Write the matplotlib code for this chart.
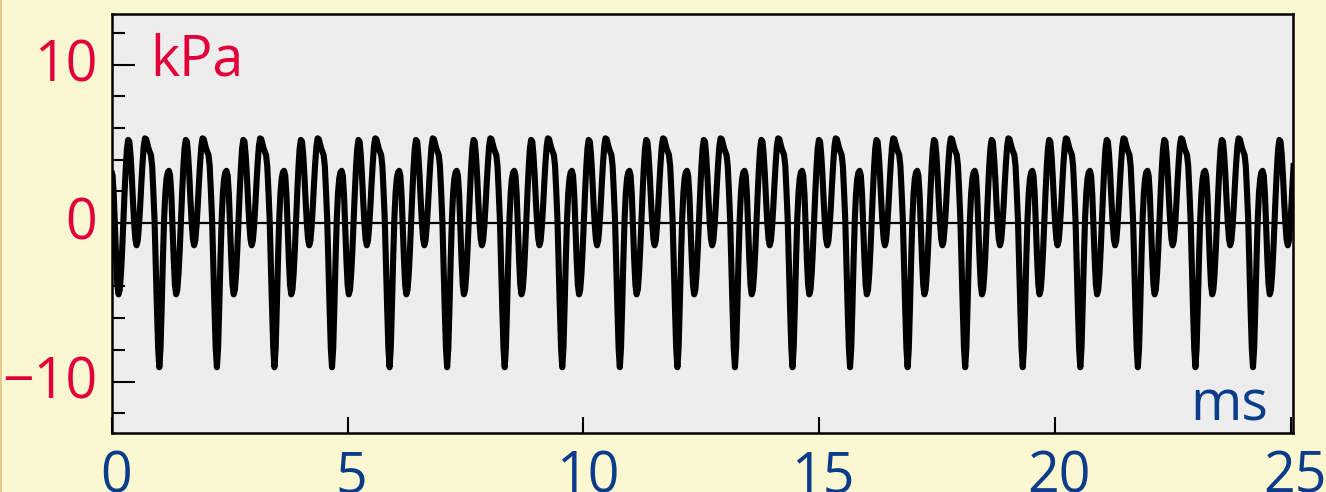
import numpy as np
import matplotlib
matplotlib.use("Agg")
import matplotlib.pyplot as plt
from matplotlib.ticker import FixedLocator
import matplotlib.transforms as mtransforms
from matplotlib.patches import Rectangle

# ---- data ----
# one period of the pressure wave (kPa), 48 samples starting at the deep minimum
period_shape = [-9.1, -7.9, -5.2, -2.2, 0.3, 1.9, 2.8, 3.2,
                3.3, 3.0, 1.8, -0.2, -2.3, -3.9, -4.5, -4.2,
                -3.2, -1.7, 0.1, 1.9, 3.5, 4.7, 5.25, 5.15,
                4.3, 3.0, 1.4, 0.0, -1.0, -1.4, -1.1, -0.2,
                1.05, 2.5, 3.8, 4.85, 5.35, 5.3, 5.0, 4.7,
                4.5, 4.3, 3.6, 2.0, 0.2, -2.6, -5.4, -7.9]
period_ms = 1.2209          # length of one period (ms)
first_min_ms = 1.004        # time of the first deep minimum (ms)
periods_before = 1
periods_after = 21

x_ticks = [0, 5, 10, 15, 20, 25]
x_labels = ["0", "5", "10", "15", "20", "25"]
y_ticks = [-10, 0, 10]
y_labels = ["\u221210", "0", "10"]
y_minor = [-12, -8, -6, -4, -2, 2, 4, 6, 8, 12]

RED = "#E2003B"
BLUE = "#0B3C8A"
FIG_BG = "#FBF7D0"
AX_BG = "#EDEDED"
FONT = ["Open Sans", "DejaVu Sans"]

# ---- build series from the sampled period ----
n = len(period_shape)
n_per = periods_before + periods_after
k = np.arange(-periods_before * n, periods_after * n + 1)
t = first_min_ms + period_ms * k / n
p = np.array(period_shape * n_per + [period_shape[0]])

plt.rcParams["font.family"] = FONT

fig = plt.figure(figsize=(13.26, 4.92), dpi=100, facecolor=FIG_BG)
fig.patches.append(Rectangle((0, 0), 2 / 1326, 1, transform=fig.transFigure,
                             facecolor="#E8C98C", edgecolor="none", zorder=0))
ax = fig.add_axes([112 / 1326, 1 - 433 / 492, 1181 / 1326, 419 / 492])
ax.set_facecolor(AX_BG)

ax.axhline(0, color="black", lw=1.6, zorder=2)
ax.plot(t, p, color="black", lw=4.4, solid_joinstyle="round",
        solid_capstyle="butt", zorder=3)

ax.set_xlim(0, 25.05)
ax.set_ylim(-13.25, 13.2)

for s in ax.spines.values():
    s.set_linewidth(1.8)
    s.set_color("black")

ax.xaxis.set_major_locator(FixedLocator(x_ticks))
ax.set_xticklabels(x_labels)
ax.yaxis.set_major_locator(FixedLocator(y_ticks))
ax.set_yticklabels(y_labels)
ax.yaxis.set_minor_locator(FixedLocator(y_minor))

ax.tick_params(axis="x", which="major", direction="in", length=11.5, width=1.5,
               pad=12, labelsize=40, labelcolor=BLUE, top=False)
ax.tick_params(axis="x", which="minor", bottom=False, top=False)
ax.tick_params(axis="y", which="major", direction="in", length=16.5, width=1.5,
               pad=10.5, labelsize=40, labelcolor=RED, right=False)
ax.tick_params(axis="y", which="minor", direction="in", length=9.5, width=1.5,
               right=False)

yoff = mtransforms.ScaledTranslation(0, 5 / 100, fig.dpi_scale_trans)
for lbl in ax.get_yticklabels():
    lbl.set_transform(lbl.get_transform() + yoff)
xoff = mtransforms.ScaledTranslation(4 / 100, 0, fig.dpi_scale_trans)
for lbl in ax.get_xticklabels():
    lbl.set_transform(lbl.get_transform() + xoff)

ax.text(0.032, 0.854, "kPa", transform=ax.transAxes, color=RED, fontsize=40,
        ha="left", va="baseline")
ax.text(0.979, 0.031, "ms", transform=ax.transAxes, color=BLUE, fontsize=40,
        ha="right", va="baseline")

fig.savefig("out.png", dpi=100, facecolor=FIG_BG)
